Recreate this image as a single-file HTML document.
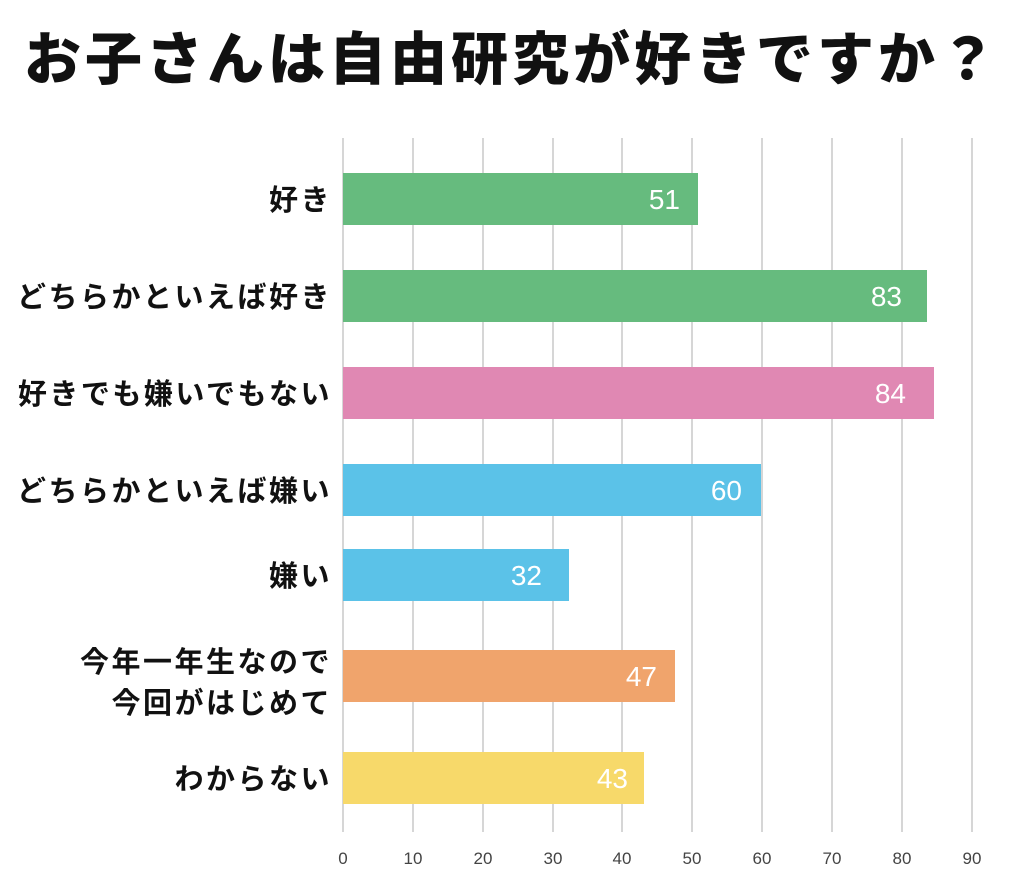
<!DOCTYPE html>
<html><head><meta charset="utf-8"><style>
body{margin:0;background:#fff;width:1024px;height:888px;overflow:hidden;font-family:"Liberation Sans","Noto Sans CJK JP",sans-serif;}
.t{position:absolute;left:0;width:1024px;top:20px;text-align:center;font-size:57px;font-weight:900;letter-spacing:4px;color:#111;white-space:nowrap;line-height:80px;}
</style></head><body>
<div class="t">お子さんは自由研究が好きですか？</div>
<svg width="1024" height="888" style="position:absolute;left:0;top:0" font-family="Liberation Sans, Noto Sans CJK JP, sans-serif">
<g stroke="#c8c8c8" stroke-width="1.5">
<line x1="343" y1="138" x2="343" y2="832"/><line x1="413" y1="138" x2="413" y2="832"/><line x1="483" y1="138" x2="483" y2="832"/><line x1="553" y1="138" x2="553" y2="832"/><line x1="622" y1="138" x2="622" y2="832"/><line x1="692" y1="138" x2="692" y2="832"/><line x1="762" y1="138" x2="762" y2="832"/><line x1="832" y1="138" x2="832" y2="832"/><line x1="902" y1="138" x2="902" y2="832"/><line x1="972" y1="138" x2="972" y2="832"/>
</g>
<g font-size="17" fill="#444" text-anchor="middle">
<text x="343" y="864">0</text><text x="413" y="864">10</text><text x="483" y="864">20</text><text x="553" y="864">30</text><text x="622" y="864">40</text><text x="692" y="864">50</text><text x="762" y="864">60</text><text x="832" y="864">70</text><text x="902" y="864">80</text><text x="972" y="864">90</text>
</g>
<rect x="343" y="173" width="355" height="52" fill="#66bb7e"/>
<rect x="343" y="270" width="584" height="52" fill="#66bb7e"/>
<rect x="343" y="367" width="591" height="52" fill="#e088b3"/>
<rect x="343" y="464" width="418" height="52" fill="#5bc2e8"/>
<rect x="343" y="549" width="226" height="52" fill="#5bc2e8"/>
<rect x="343" y="650" width="332" height="52" fill="#f0a46c"/>
<rect x="343" y="752" width="301" height="52" fill="#f7d96a"/>
<g font-size="28" fill="#fff" text-anchor="end">
<text x="680" y="209">51</text><text x="902" y="306">83</text><text x="906" y="403">84</text><text x="742" y="500">60</text><text x="542" y="585">32</text><text x="657" y="686">47</text><text x="628" y="788">43</text>
</g>
<g font-size="29" fill="#111" text-anchor="end" font-weight="bold" letter-spacing="2.5">
<text x="332" y="210">好き</text><text x="332" y="307">どちらかといえば好き</text><text x="332" y="404">好きでも嫌いでもない</text><text x="332" y="501">どちらかといえば嫌い</text><text x="332" y="586">嫌い</text><text x="332" y="672">今年一年生なので</text><text x="332" y="713">今回がはじめて</text><text x="332" y="789">わからない</text>
</g>
</svg>
</body></html>
